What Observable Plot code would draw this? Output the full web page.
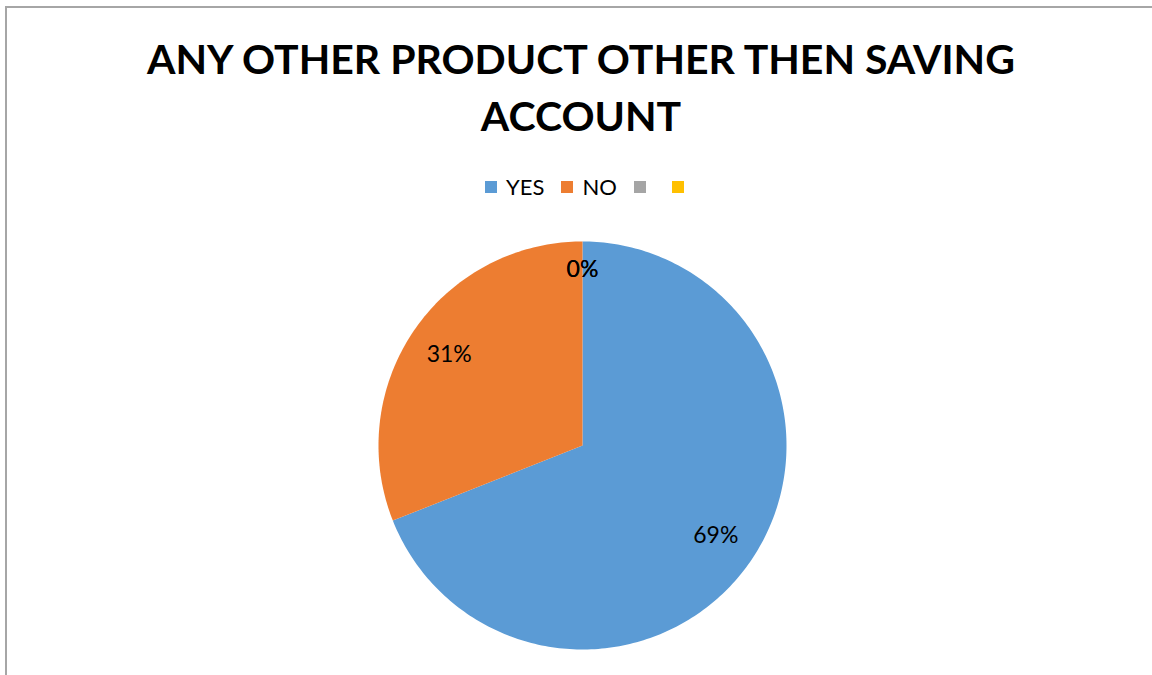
<!DOCTYPE html>
<html>
<head>
<meta charset="utf-8">
<script src="https://cdn.jsdelivr.net/npm/d3@7"></script>
<script src="https://cdn.jsdelivr.net/npm/@observablehq/plot@0.6"></script>
<style>
  html, body { margin: 0; padding: 0; background: #fff; }
  #wrap { position: relative; width: 1152px; height: 675px; overflow: hidden; font-family: Lato, "Open Sans", sans-serif; }
  #frame { position: absolute; left: 5px; top: 6px; right: -10px; bottom: -10px; border-left: 2px solid #a6a6a6; border-top: 2px solid #a6a6a6; }
  #title { position: absolute; left: 0; width: 1162px; top: 30px; text-align: center; font-weight: 700; font-size: 41px; line-height: 57px; color: #000; }
  #legend { position: absolute; left: 485px; top: 173px; display: flex; font-size: 22px; color: #000; }
  .item { display: flex; align-items: center; margin-right: 17px; }
  .sw { width: 12px; height: 12px; margin-right: 9px; }
  #chart { position: absolute; left: 0; top: 0; }
</style>
</head>
<body>
<div id="wrap">
  <div id="frame"></div>
  <div id="chart"></div>
  <div id="title"></div>
  <div id="legend"></div>
</div>
<script>
const titleLines = ["ANY OTHER PRODUCT OTHER THEN SAVING", "ACCOUNT"];
const categories = ["YES", "NO", "", ""];
const values = [69, 31, 0, 0];
const colors = ["#5B9BD5", "#ED7D31", "#A5A5A5", "#FFC000"];

// Title
document.getElementById("title").innerHTML = titleLines.join("<br>");

// Legend
const legend = document.getElementById("legend");
categories.forEach((c, i) => {
  const it = document.createElement("div");
  it.className = "item";
  const sw = document.createElement("div");
  sw.className = "sw";
  sw.style.background = colors[i];
  it.appendChild(sw);
  const t = document.createElement("span");
  t.textContent = c;
  t.style.minWidth = c ? "0" : "0px";
  it.appendChild(t);
  legend.appendChild(it);
});

// Pie geometry (unit radius; layout constants)
const W = 1152, H = 675, R = 204, CX = 582, CY = 445;
const total = d3.sum(values);
const arcs = d3.pie().sort(null).value(d => d)(values);

const polys = [];
arcs.forEach((a, i) => {
  if (a.endAngle - a.startAngle <= 0) return;
  const n = Math.max(2, Math.ceil((a.endAngle - a.startAngle) / (Math.PI * 2) * 360));
  polys.push({k: i, x: 0, y: 0});
  for (let j = 0; j <= n; j++) {
    const t = a.startAngle + (a.endAngle - a.startAngle) * j / n;
    polys.push({k: i, x: Math.sin(t), y: Math.cos(t)});
  }
  polys.push({k: i, x: 0, y: 0});
});

const labels = arcs.map((a, i) => {
  const m = (a.startAngle + a.endAngle) / 2;
  const r = values[i] === 0 ? 0.86 : 0.79;
  return {x: Math.sin(m) * r, y: Math.cos(m) * r, text: Math.round(values[i] / total * 100) + "%"};
});

const plot = Plot.plot({
  width: W,
  height: H,
  margin: 0,
  x: {type: "linear", domain: [-CX / R, (W - CX) / R], range: [0, W], axis: null},
  y: {type: "linear", domain: [-(H - CY) / R, CY / R], range: [H, 0], axis: null},
  marks: [
    Plot.line(polys, {x: "x", y: "y", z: "k", fill: d => colors[d.k], stroke: "none", curve: "linear"}),
    Plot.text(labels, {x: "x", y: "y", text: "text", fontSize: 23, fill: "#000", fontFamily: "Lato, 'Open Sans', sans-serif"})
  ]
});
plot.style.background = "transparent";
document.getElementById("chart").appendChild(plot);
</script>
</body>
</html>
